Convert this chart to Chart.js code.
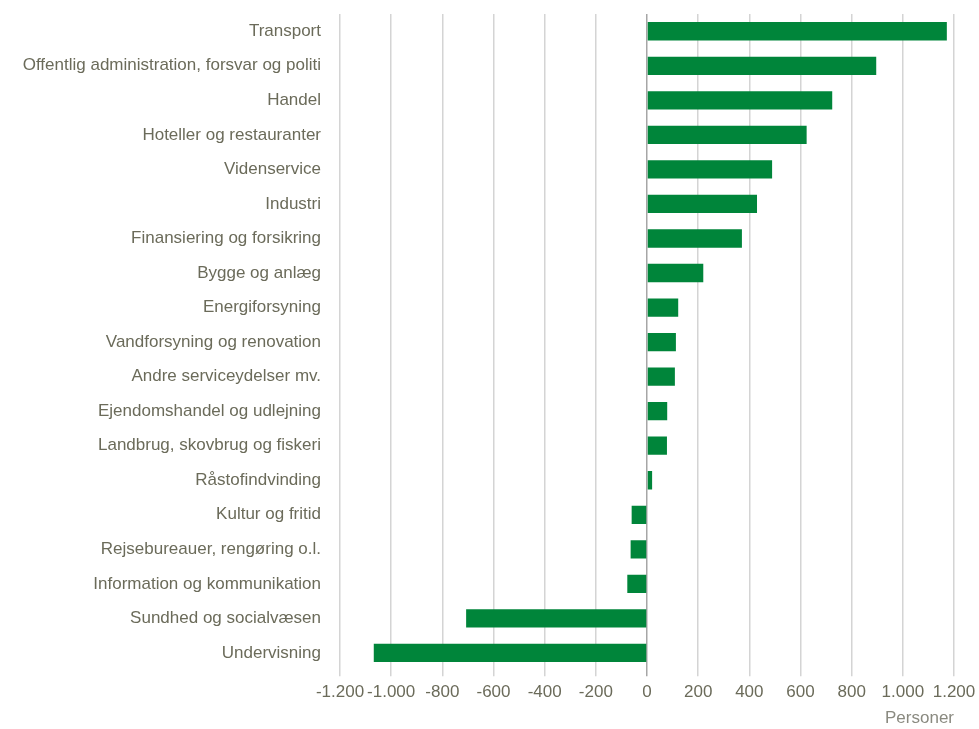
<!DOCTYPE html>
<html lang="da">
<head>
    <meta charset="UTF-8">
    <title>Beskæftigelse efter branche</title>
    <script src="https://cdn.jsdelivr.net/npm/chart.js"></script>
    <style>
        * { margin: 0; padding: 0; box-sizing: border-box; }
        body { background: #fff; width: 979px; height: 729px; overflow: hidden; }
        #wrap { position: relative; width: 979px; height: 729px; }
    </style>
</head>
<body>
    <div id="wrap"><canvas id="myChart" width="979" height="729"></canvas></div>

    <script>
        const categories = [
            "Transport",
            "Offentlig administration, forsvar og politi",
            "Handel",
            "Hoteller og restauranter",
            "Videnservice",
            "Industri",
            "Finansiering og forsikring",
            "Bygge og anlæg",
            "Energiforsyning",
            "Vandforsyning og renovation",
            "Andre serviceydelser mv.",
            "Ejendomshandel og udlejning",
            "Landbrug, skovbrug og fiskeri",
            "Råstofindvinding",
            "Kultur og fritid",
            "Rejsebureauer, rengøring o.l.",
            "Information og kommunikation",
            "Sundhed og socialvæsen",
            "Undervisning"
        ];
        const values = [1172, 896, 724, 624, 489, 430, 371, 220, 122, 113, 109, 79, 78, 20, -60, -64, -77, -707, -1068];

        const xMin = -1200, xMax = 1200, xStep = 200;
        const axisTitle = "Personer";

        const textColor = '#6b6b5a';
        const fontFamily = "'Liberation Sans Narrow', 'Arial Narrow', 'Liberation Sans', sans-serif";

        // danish thousand separator
        function fmt(v) {
            const s = Math.abs(v).toString().replace(/\B(?=(\d{3})+(?!\d))/g, '.');
            return (v < 0 ? '-' : '') + s;
        }

        const ctx = document.getElementById('myChart').getContext('2d');
        const chart = new Chart(ctx, {
            type: 'bar',
            data: {
                labels: categories,
                datasets: [{
                    data: values,
                    backgroundColor: '#00853a',
                    borderWidth: 0,
                    barPercentage: 0.53,
                    categoryPercentage: 1.0
                }]
            },
            options: {
                indexAxis: 'y',
                responsive: false,
                animation: false,
                layout: { padding: { top: 14, right: 25, left: 0, bottom: 0 } },
                plugins: {
                    legend: { display: false },
                    tooltip: { enabled: false }
                },
                scales: {
                    x: {
                        min: xMin,
                        max: xMax,
                        border: { display: false },
                        grid: {
                            color: c => c.tick && c.tick.value === 0 ? '#a6a6a6' : '#d4d4d4',
                            lineWidth: 1.5,
                            tickLength: 6
                        },
                        ticks: {
                            stepSize: xStep,
                            color: textColor,
                            font: { family: fontFamily, size: 17 },
                            padding: 6,
                            maxRotation: 0,
                            autoSkip: false,
                            callback: v => fmt(v)
                        },
                        title: {
                            display: true,
                            text: axisTitle,
                            align: 'end',
                            color: '#8a8a80',
                            font: { family: fontFamily, size: 17 },
                            padding: { top: 0, bottom: 0 }
                        },
                        afterFit: s => { s.paddingRight = 0; s.paddingLeft = 0; }
                    },
                    y: {
                        border: { display: false },
                        grid: { display: false, drawTicks: false },
                        ticks: {
                            color: textColor,
                            font: { family: fontFamily, size: 17 },
                            padding: 19,
                            autoSkip: false
                        },
                        afterFit: s => { s.width = 340; s.paddingTop = 0; s.paddingBottom = 0; }
                    }
                }
            }
        });
    </script>
</body>
</html>
